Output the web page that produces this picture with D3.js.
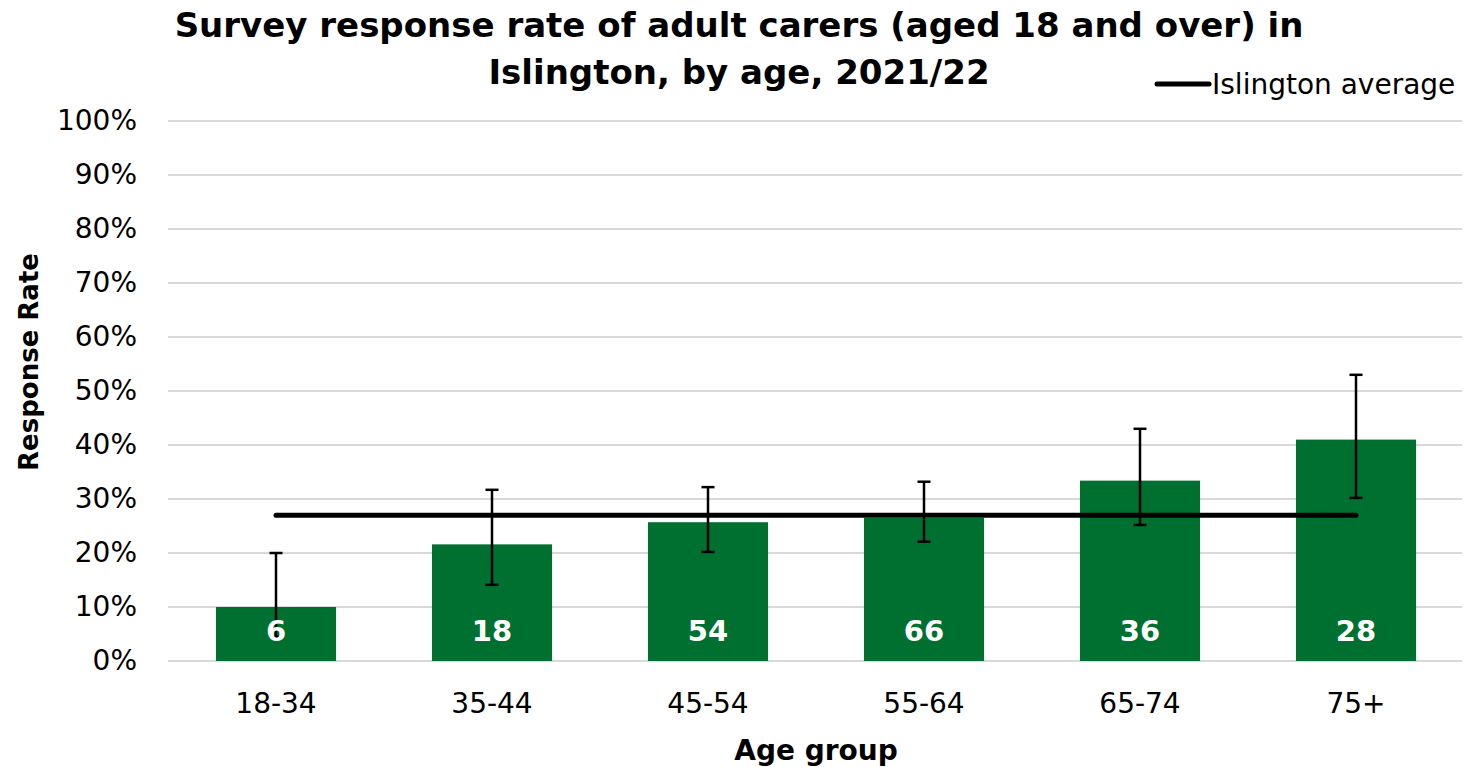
<!DOCTYPE html>
<html>
<head>
<meta charset="utf-8">
<script src="https://cdn.jsdelivr.net/npm/d3@7"></script>
<style>
  body { margin: 0; background: #fff; }
  svg { display: block; font-family: "DejaVu Sans", Verdana, sans-serif; }
</style>
</head>
<body>
<div id="chart"></div>
<script>
// data
const ageGroups = ["18-34", "35-44", "45-54", "55-64", "65-74", "75+"];
const responseRate = [0.100, 0.216, 0.257, 0.265, 0.334, 0.410];
const lowerCI = [0.045, 0.141, 0.202, 0.221, 0.252, 0.302];
const upperCI = [0.200, 0.317, 0.322, 0.332, 0.430, 0.530];
const respondents = [6, 18, 54, 66, 36, 28];
const islingtonAverage = 0.27;
const yTicks = [0, 0.1, 0.2, 0.3, 0.4, 0.5, 0.6, 0.7, 0.8, 0.9, 1.0];

const barColor = "#007030";
const gridColor = "#d9d9d9";

const W = 1465, H = 767;
const margin = {top: 121, right: 1, bottom: 106, left: 168};

const svg = d3.select("#chart").append("svg")
  .attr("width", W)
  .attr("height", H);

const x = d3.scaleBand()
  .domain(ageGroups)
  .range([margin.left, W - margin.right])
  .paddingInner(0.444)
  .paddingOuter(0.222);

const y = d3.scaleLinear()
  .domain([0, 1])
  .range([H - margin.bottom, margin.top]);

// gridlines
svg.append("g")
  .selectAll("line")
  .data(yTicks)
  .join("line")
  .attr("x1", margin.left)
  .attr("x2", W - 3)
  .attr("y1", d => y(d))
  .attr("y2", d => y(d))
  .attr("stroke", gridColor)
  .attr("stroke-width", 2);

// y axis labels
const yAxis = svg.append("g")
  .attr("transform", `translate(${margin.left},0)`)
  .call(d3.axisLeft(y).tickValues(yTicks).tickFormat(d => Math.round(d * 100) + "%").tickSize(0).tickPadding(31));
yAxis.select(".domain").remove();
yAxis.selectAll("text")
  .style("font-family", "DejaVu Sans")
  .style("font-size", "28px")
  .attr("fill", "#000");

// x axis labels
const xAxis = svg.append("g")
  .attr("transform", `translate(0,${y(0)})`)
  .call(d3.axisBottom(x).tickSize(0).tickPadding(32));
xAxis.select(".domain").remove();
xAxis.selectAll("text")
  .style("font-family", "DejaVu Sans")
  .style("font-size", "28px")
  .attr("fill", "#000");

// bars
svg.append("g")
  .selectAll("rect")
  .data(ageGroups)
  .join("rect")
  .attr("x", d => x(d))
  .attr("y", (d, i) => y(responseRate[i]))
  .attr("width", x.bandwidth())
  .attr("height", (d, i) => y(0) - y(responseRate[i]))
  .attr("fill", barColor);

// Islington average line
svg.append("line")
  .attr("x1", x(ageGroups[0]) + x.bandwidth() / 2)
  .attr("x2", x(ageGroups[ageGroups.length - 1]) + x.bandwidth() / 2)
  .attr("y1", y(islingtonAverage))
  .attr("y2", y(islingtonAverage))
  .attr("stroke", "#000")
  .attr("stroke-width", 5)
  .attr("stroke-linecap", "round");

// error bars
const err = svg.append("g")
  .attr("stroke", "#000")
  .attr("stroke-width", 2.5);
ageGroups.forEach((g, i) => {
  const cx = x(g) + x.bandwidth() / 2;
  err.append("line")
    .attr("x1", cx).attr("x2", cx)
    .attr("y1", y(lowerCI[i])).attr("y2", y(upperCI[i]));
  [lowerCI[i], upperCI[i]].forEach(v => {
    err.append("line")
      .attr("x1", cx - 6.5).attr("x2", cx + 6.5)
      .attr("y1", y(v)).attr("y2", y(v));
  });
});

// respondent counts inside bars
svg.append("g")
  .selectAll("text")
  .data(ageGroups)
  .join("text")
  .attr("x", d => x(d) + x.bandwidth() / 2)
  .attr("y", y(0) - 30)
  .attr("dy", "0.36em")
  .attr("text-anchor", "middle")
  .attr("fill", "#fff")
  .attr("font-weight", "bold")
  .style("font-size", "29px")
  .text((d, i) => respondents[i]);

// title
const title = svg.append("text")
  .attr("text-anchor", "middle")
  .attr("font-weight", "bold")
  .style("font-size", "34px");
title.append("tspan").attr("x", 739).attr("y", 37)
  .text("Survey response rate of adult carers (aged 18 and over) in");
title.append("tspan").attr("x", 739).attr("y", 84)
  .text("Islington, by age, 2021/22");

// legend
svg.append("line")
  .attr("x1", 1157).attr("x2", 1209)
  .attr("y1", 84).attr("y2", 84)
  .attr("stroke", "#000")
  .attr("stroke-width", 5)
  .attr("stroke-linecap", "round");
svg.append("text")
  .attr("x", 1212).attr("y", 84)
  .attr("dy", "0.35em")
  .style("font-size", "28px")
  .text("Islington average");

// axis titles
svg.append("text")
  .attr("x", x.range()[0] + (x.range()[1] - x.range()[0]) / 2)
  .attr("y", 760)
  .attr("text-anchor", "middle")
  .attr("font-weight", "bold")
  .style("font-size", "28px")
  .text("Age group");

svg.append("text")
  .attr("transform", `translate(38,${362}) rotate(-90)`)
  .attr("text-anchor", "middle")
  .attr("font-weight", "bold")
  .style("font-size", "26px")
  .text("Response Rate");
</script>
</body>
</html>
